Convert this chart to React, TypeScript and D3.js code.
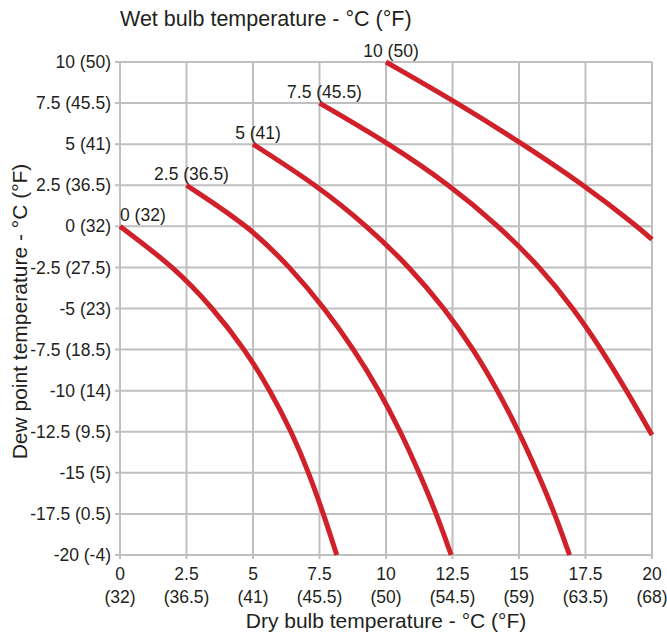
import React from 'react';
import * as d3 from 'd3';

// axis ticks, °C with the °F equivalent underneath / alongside
const dryTicks = [0, 2.5, 5, 7.5, 10, 12.5, 15, 17.5, 20];
const dryTicksF = ['32', '36.5', '41', '45.5', '50', '54.5', '59', '63.5', '68'];
const dewTicks = [10, 7.5, 5, 2.5, 0, -2.5, -5, -7.5, -10, -12.5, -15, -17.5, -20];
const dewTicksF = ['50', '45.5', '41', '36.5', '32', '27.5', '23', '18.5', '14', '9.5', '5', '0.5', '-4'];

// wet bulb curves (dry bulb vs dew point)
const wetBulbC = [0, 2.5, 5, 7.5, 10];
const wetBulbLabels = ['0 (32)', '2.5 (36.5)', '5 (41)', '7.5 (45.5)', '10 (50)'];

const wb0Dry = [0, 2.05, 3.5, 4.7, 5.65, 6.45, 7.1, 7.65, 8.15];
const wb0Dew = [0, -2.5, -5, -7.5, -10, -12.5, -15, -17.5, -20];

const wb25Dry = [2.5, 4.85, 6.4, 7.7, 8.8, 9.75, 10.55, 11.25, 11.9, 12.45];
const wb25Dew = [2.5, 0, -2.5, -5, -7.5, -10, -12.5, -15, -17.5, -20];

const wb5Dry = [5, 7.4, 9.3, 10.9, 12.2, 13.3, 14.2, 15.0, 15.7, 16.35, 16.9];
const wb5Dew = [5, 2.5, 0, -2.5, -5, -7.5, -10, -12.5, -15, -17.5, -20];

const wb75Dry = [7.5, 10.15, 12.4, 14.25, 15.8, 17.05, 18.1, 19.05, 20];
const wb75Dew = [7.5, 5, 2.5, 0, -2.5, -5, -7.5, -10, -12.7];

const wb10Dry = [10, 12.7, 15.15, 17.45, 19.45, 20];
const wb10Dew = [10, 7.5, 5, 2.5, 0, -0.8];

const curves = [
  [wb0Dry, wb0Dew],
  [wb25Dry, wb25Dew],
  [wb5Dry, wb5Dew],
  [wb75Dry, wb75Dew],
  [wb10Dry, wb10Dew],
];

const W = 667;
const H = 635;
const margin = { top: 62, right: 15, bottom: 80, left: 120 };
const font = "'Liberation Sans', Arial, sans-serif";
const textColor = '#231f20';
const gridColor = '#bfbfbf';
const red = '#d0212b';

export default function App() {
  const x = d3.scaleLinear().domain([0, 20]).range([margin.left, W - margin.right]);
  const y = d3.scaleLinear().domain([-20, 10]).range([H - margin.bottom, margin.top]);

  // basis smooths out small reading errors; it still hits both end points
  const line = d3.line<[number, number]>()
    .x(d => x(d[0]))
    .y(d => y(d[1]))
    .curve(d3.curveBasis);

  const [x0, x1] = x.range();
  const [y0, y1] = y.range();

  return (
    <svg width={W} height={H} style={{ position: 'absolute', left: 0, top: 0, background: '#fff' }}
      fontFamily={font} fill={textColor}>
      {/* grid */}
      <g stroke={gridColor} strokeWidth={2}>
        {dryTicks.map(t => (
          <line key={'vx' + t} x1={x(t)} x2={x(t)} y1={y1} y2={y0 + 4} />
        ))}
        {dewTicks.map(t => (
          <line key={'hy' + t} x1={x0 - 5} x2={x1} y1={y(t)} y2={y(t)} />
        ))}
      </g>

      {/* y tick labels */}
      <g fontSize={17.5} textAnchor="end">
        {dewTicks.map((t, i) => (
          <text key={'yl' + t} x={x0 - 9} y={y(t)} dy="0.35em">{`${t} (${dewTicksF[i]})`}</text>
        ))}
      </g>

      {/* x tick labels */}
      <g fontSize={17.5} textAnchor="middle">
        {dryTicks.map((t, i) => (
          <text key={'xl' + t} x={x(t)} y={y0 + 25}>
            <tspan x={x(t)}>{t}</tspan>
            <tspan x={x(t)} dy={23}>{`(${dryTicksF[i]})`}</tspan>
          </text>
        ))}
      </g>

      {/* wet bulb curves */}
      <g fill="none" stroke={red} strokeWidth={5} strokeLinecap="butt">
        {curves.map(([dry, dew], i) => (
          <path key={'c' + i} d={line(dry.map((v, j) => [v, dew[j]] as [number, number])) || ''} />
        ))}
      </g>

      {/* curve labels */}
      <g fontSize={17.5}>
        {wetBulbC.map((t, i) => (
          <text key={'cl' + t} x={t === 0 ? x(t) : x(t) + 5} y={y(t) - 5}
            textAnchor={t === 0 ? 'start' : 'middle'}>{wetBulbLabels[i]}</text>
        ))}
      </g>

      {/* titles */}
      <text x={x0} y={26} fontSize={21.5}>Wet bulb temperature - °C (°F)</text>
      <text x={(x0 + x1) / 2} y={628} fontSize={21} textAnchor="middle">Dry bulb temperature - °C (°F)</text>
      <text transform={`translate(27, ${(y0 + y1) / 2 + 3}) rotate(-90)`} fontSize={21} textAnchor="middle">
        Dew point temperature - °C (°F)
      </text>
    </svg>
  );
}
